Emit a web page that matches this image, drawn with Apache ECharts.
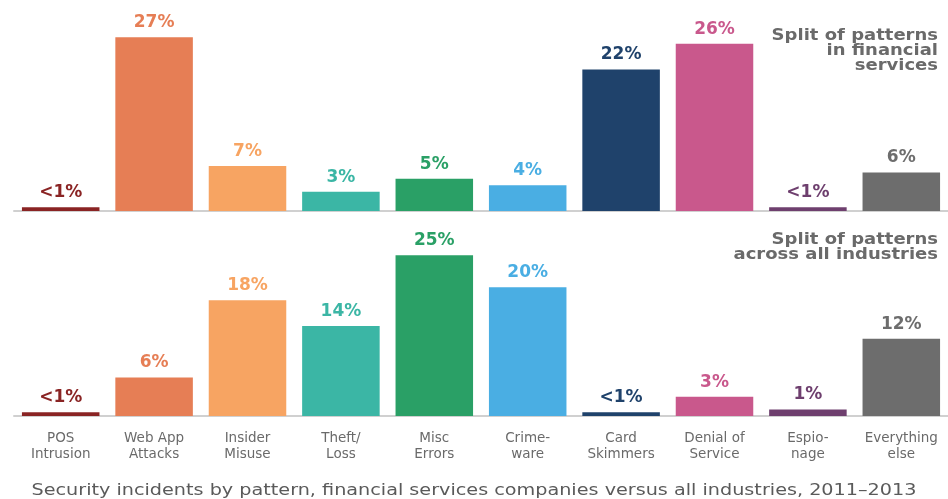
<!DOCTYPE html>
<html><head><meta charset="utf-8">
<script src="https://cdn.jsdelivr.net/npm/echarts@6/dist/echarts.min.js"></script>
<style>html,body{margin:0;padding:0;background:#fff}#c{width:948px;height:499px}</style>
</head><body><div id="c"></div>
<script>
const categories = ['POS\nIntrusion','Web App\nAttacks','Insider\nMisuse','Theft/\nLoss','Misc\nErrors','Crime-\nware','Card\nSkimmers','Denial of\nService','Espio-\nnage','Everything\nelse'];
const financialValues = [0.6, 27, 7, 3, 5, 4, 22, 26, 0.6, 6];
const financialLabels = ['<1%','27%','7%','3%','5%','4%','22%','26%','<1%','6%'];
const allValues = [0.6, 6, 18, 14, 25, 20, 0.6, 3, 1, 12];
const allLabels = ['<1%','6%','18%','14%','25%','20%','<1%','3%','1%','12%'];
const colors = ['#8a2424','#e67e55','#f7a462','#3bb6a5','#2aa066','#4aaee3','#1f426b','#c9588c','#6e3f6e','#6d6d6d'];
const panelTitles = ['Split of patterns\nin financial\nservices', 'Split of patterns\nacross all industries'];
const chartTitle = 'Security incidents by pattern, financial services companies versus all industries, 2011\u20132013';

const font = 'DejaVu Sans';
function mk(vals, labels, idx){
  return {
    type:'bar', xAxisIndex:idx, yAxisIndex:idx, barCategoryGap:'17%',
    data: vals.map((v,i)=>({value:v, itemStyle:{color:colors[i]},
      label:{color:colors[i]}})),
    label:{show:true, position:'top', distance:6, fontFamily:font, fontWeight:'bold', fontSize:17,
      formatter:p=>labels[p.dataIndex]},
    silent:true
  };
}
const axisX = (idx, showLabel) => ({
  type:'category', gridIndex:idx, data:categories,
  axisLine:{show:true, lineStyle:{color:'#d0d0d0', width:2}},
  axisTick:{show:false},
  axisLabel:{show:showLabel, color:'#6a6a6a', fontFamily:font, fontSize:13.5, lineHeight:16, margin:14, interval:0}
});
const axisY = idx => ({type:'value', gridIndex:idx, min:0, max:30, show:false});

const chart = echarts.init(document.getElementById('c'));
chart.setOption({
  animation:false,
  grid:[{left:14, right:0, top:18, height:193}, {left:14, right:0, top:223, height:193}],
  xAxis:[axisX(0,false), axisX(1,true)],
  yAxis:[axisY(0), axisY(1)],
  series:[mk(financialValues, financialLabels, 0), mk(allValues, allLabels, 1)],
  graphic:[
    {type:'text', x:938, y:29, scaleX:1.2, silent:true,
      style:{text:panelTitles[0], align:'right', verticalAlign:'top', fill:'#6a6a6a',
        font:'bold 15px "DejaVu Sans"', lineHeight:15}},
    {type:'text', x:938, y:233, scaleX:1.2, silent:true,
      style:{text:panelTitles[1], align:'right', verticalAlign:'top', fill:'#6a6a6a',
        font:'bold 15px "DejaVu Sans"', lineHeight:15}},
    {type:'text', x:474, y:491, scaleX:1.28, silent:true,
      style:{text:chartTitle, align:'center', verticalAlign:'middle', fill:'#5a5a5a',
        font:'15px "DejaVu Sans"'}}
  ]
});
</script></body></html>
